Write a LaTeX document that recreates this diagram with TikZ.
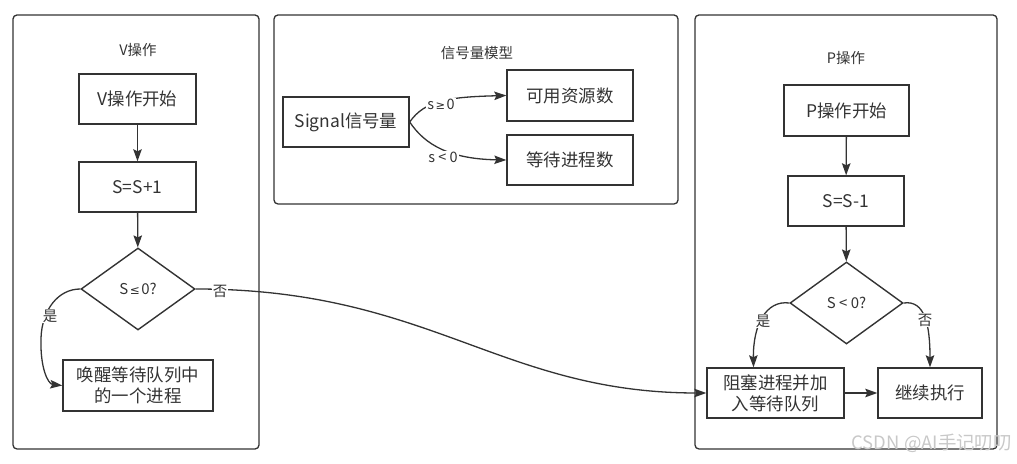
\documentclass[tikz,border=0pt]{standalone}
\usepackage{fontspec}
\setmainfont{Noto Sans CJK SC}
\newfontfamily\symfont{DejaVu Sans}
\usetikzlibrary{shapes.geometric,arrows.meta}
\definecolor{ink}{HTML}{333333}
\definecolor{wm}{HTML}{C8C8C8}
\tikzset{
  frame/.style={draw=ink, line width=1.3bp, rounded corners=4bp, inner sep=0pt, fill=none},
  head/.style={text=ink, font=\fontsize{14.5}{16}\selectfont, inner sep=1bp},
  box/.style={draw=ink, line width=1.4bp, inner sep=0pt, text=ink, align=center,
    font=\fontsize{17.5}{21}\selectfont},
  dia/.style={draw=ink, line width=1.4bp, diamond, inner sep=0pt, text=ink,
    font=\fontsize{15}{17}\selectfont},
  arr/.style={draw=ink, line width=1.3bp, -{Stealth[length=12bp,width=8.5bp,inset=2bp]}},
  lbl/.style={fill=white, text=ink, inner sep=1bp, font=\fontsize{14.5}{16}\selectfont},
}
\begin{document}
\begin{tikzpicture}[x=1bp,y=-1bp]
\useasboundingbox (0,0) rectangle (1017,464);
% containers
\node[frame, minimum width=246bp, minimum height=434bp] (cv) at (136,232) {};
\node[frame, minimum width=404bp, minimum height=189bp] (cm) at (476,109.5) {};
\node[frame, minimum width=302bp, minimum height=434bp] (cp) at (846,232) {};
\node[head] (hv) at (138,50) {V操作};
\node[head] (hm) at (477,53) {信号量模型};
\node[head] (hp) at (846,58) {P操作};
% V operation
\node[box, minimum width=117bp, minimum height=50bp] (vstart) at (137.5,99) {V操作开始};
\node[box, minimum width=117bp, minimum height=50bp] (vinc) at (137.5,187) {S=S+1};
\node[dia, minimum width=114bp, minimum height=82bp] (vdia) at (138,289) {S\kern1.5bp{\symfont\fontsize{12}{14}\selectfont ≤}\kern1.5bp0?};
\node[box, minimum width=150bp, minimum height=51bp] (vwake) at (138,385.5) {唤醒等待队列中\\的一个进程};
\draw[arr] (vstart) -- (vinc);
\draw[arr] (vinc) -- (vdia);
\draw[arr] (vdia.west) .. controls (58,289) and (42,310) .. (41,338) .. controls (40,368) and (48,384) .. (vwake.west);
\node[lbl] (vyes) at (50,316) {是};
% signal model
\node[box, minimum width=126bp, minimum height=50bp] (sig) at (346,122) {Signal信号量};
\node[box, minimum width=126bp, minimum height=51bp] (avail) at (570,95.5) {可用资源数};
\node[box, minimum width=126bp, minimum height=50bp] (wait) at (570,160) {等待进程数};
\draw[arr] (sig.east) .. controls (425,100) and (450,97) .. (avail.west);
\draw[arr] (sig.east) .. controls (425,145) and (450,159) .. (wait.west);
\node[lbl] (lge) at (441,104) {s\kern1.5bp{\symfont\fontsize{11.5}{14}\selectfont ≥}\kern1.5bp0};
\node[lbl] (llt) at (443,157) {s < 0};
% P operation
\node[box, minimum width=125bp, minimum height=51bp] (pstart) at (846.5,110.5) {P操作开始};
\node[box, minimum width=116bp, minimum height=50bp] (pdec) at (846,201) {S=S-1};
\node[dia, minimum width=113bp, minimum height=82bp] (pdia) at (846.5,303) {S < 0?};
\node[box, minimum width=137bp, minimum height=50bp] (block) at (775.5,393) {阻塞进程并加\\入等待队列};
\node[box, minimum width=104bp, minimum height=50bp] (cont) at (930,393) {继续执行};
\draw[arr] (pstart) -- (pdec);
\draw[arr] (pdec) -- (pdia);
\draw[arr] (pdia.west) .. controls (766,300) and (753,325) .. ([xshift=-22bp]block.north);
\draw[arr] (pdia.east) .. controls (925,300) and (930,325) .. (cont.north);
\draw[arr] (block) -- (cont);
\node[lbl] (pyes) at (763,321) {是};
\node[lbl] (pno) at (925,320) {否};
% long connector
\draw[arr] (vdia.east) .. controls (430,289) and (500,393) .. (block.west);
\node[lbl] (vno) at (220,291) {否};
% watermark
\node[text=wm, inner sep=0pt, font=\fontsize{18.5}{20}\selectfont, anchor=east] (wmk) at (1012,443) {CSDN @AI手记叨叨};
\end{tikzpicture}
\end{document}
